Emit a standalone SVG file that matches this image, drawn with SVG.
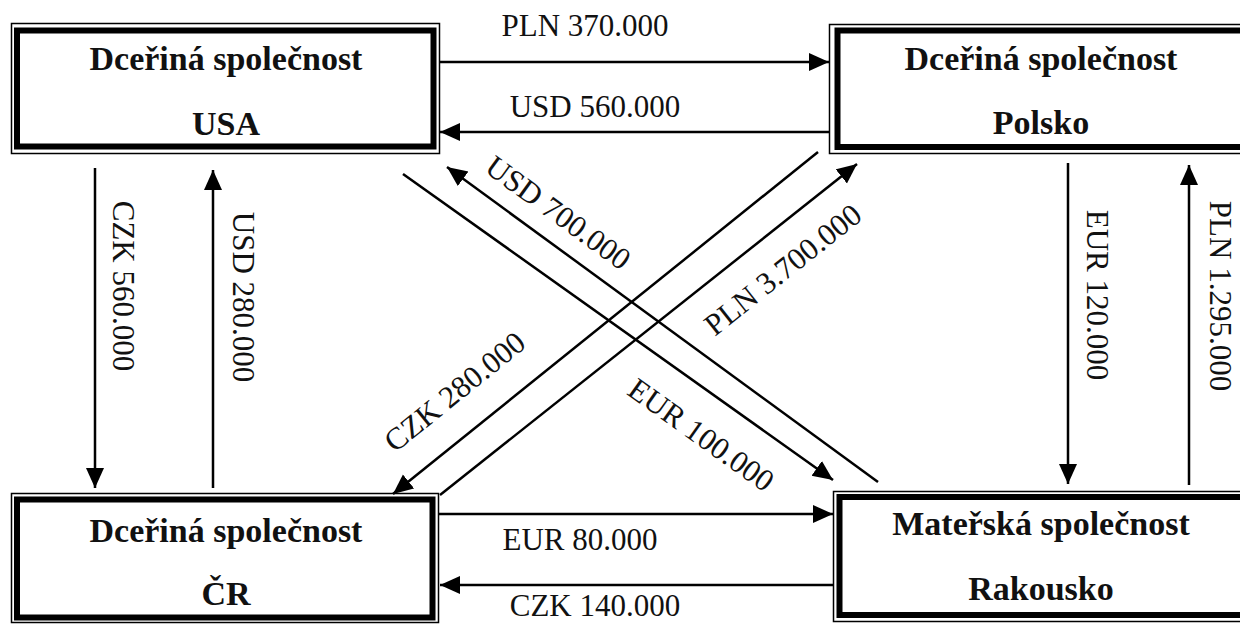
<svg xmlns="http://www.w3.org/2000/svg" width="1240" height="624" viewBox="0 0 1240 624">
<style>
.outer{fill:none;stroke:#000;stroke-width:1.5}
.thick{fill:#fff;stroke:#000;stroke-width:6}
.bt{font-family:"Liberation Serif","Times New Roman",serif;font-weight:bold;font-size:34px;fill:#111;text-anchor:middle}
.lb{font-family:"Liberation Serif","Times New Roman",serif;font-size:31px;fill:#111;text-anchor:middle}
.ar{stroke:#000;stroke-width:2.5;fill:none;marker-end:url(#ah)}
</style>
<defs>
<marker id="ah" markerUnits="userSpaceOnUse" markerWidth="22" markerHeight="20" refX="20" refY="9" orient="auto">
<path d="M0,0 L20,9 L0,18 Z" fill="#000"/>
</marker>
</defs>
<rect width="1240" height="624" fill="#fff"/>
<g id="usa">
<rect class="outer" x="11.5" y="23.5" width="428" height="130"/>
<rect class="thick" x="17" y="30.5" width="416.5" height="116"/>
<text class="bt" x="226" y="70">Dceřiná společnost</text>
<text class="bt" x="226" y="135">USA</text>
</g>
<g id="polsko">
<rect class="outer" x="829.5" y="24.5" width="430" height="129"/>
<rect class="thick" x="837.5" y="30.5" width="420" height="116.5"/>
<text class="bt" x="1041" y="70">Dceřiná společnost</text>
<text class="bt" x="1041" y="134">Polsko</text>
</g>
<g id="cr">
<rect class="outer" x="11.5" y="493.5" width="427" height="129"/>
<rect class="thick" x="17" y="499.5" width="415.5" height="118"/>
<text class="bt" x="226" y="542">Dceřiná společnost</text>
<text class="bt" x="226" y="605">ČR</text>
</g>
<g id="rakousko">
<rect class="outer" x="833.5" y="491.5" width="430" height="130"/>
<rect class="thick" x="839.5" y="497" width="420" height="118"/>
<text class="bt" x="1041" y="535">Mateřská společnost</text>
<text class="bt" x="1041" y="600">Rakousko</text>
</g>
<g id="connectors">
<line class="ar" x1="440" y1="62" x2="829" y2="62"/>
<line class="ar" x1="829" y1="132" x2="440" y2="132"/>
<line class="ar" x1="95" y1="168" x2="95" y2="488"/>
<line class="ar" x1="213" y1="488" x2="213" y2="170"/>
<line class="ar" x1="1068" y1="163" x2="1068" y2="484"/>
<line class="ar" x1="1189" y1="485" x2="1189" y2="165"/>
<line class="ar" x1="439" y1="514" x2="833" y2="514"/>
<line class="ar" x1="833" y1="585" x2="440" y2="585"/>
<line class="ar" x1="878" y1="482" x2="447" y2="167"/>
<line class="ar" x1="403" y1="174" x2="833" y2="480"/>
<line class="ar" x1="818" y1="152" x2="393" y2="494"/>
<line class="ar" x1="440" y1="495" x2="857" y2="164"/>
</g>
<g id="labels">
<text class="lb" x="585" y="36">PLN 370.000</text>
<text class="lb" x="595" y="117">USD 560.000</text>
<text class="lb" x="580" y="550">EUR 80.000</text>
<text class="lb" x="595" y="616">CZK 140.000</text>
<text class="lb" transform="translate(123,286) rotate(90)" x="0" y="10">CZK 560.000</text>
<text class="lb" transform="translate(243,297) rotate(90)" x="0" y="10">USD 280.000</text>
<text class="lb" transform="translate(1097,295) rotate(90)" x="0" y="10">EUR 120.000</text>
<text class="lb" transform="translate(1220,296) rotate(90)" x="0" y="10">PLN 1.295.000</text>
<text class="lb" transform="translate(558,213) rotate(36)" x="0" y="10">USD 700.000</text>
<text class="lb" transform="translate(701,435) rotate(35.5)" x="0" y="10">EUR 100.000</text>
<text class="lb" transform="translate(783,270) rotate(-38.4)" x="0" y="10">PLN 3.700.000</text>
<text class="lb" transform="translate(455,392) rotate(-38.8)" x="0" y="10">CZK 280.000</text>
</g>
</svg>
